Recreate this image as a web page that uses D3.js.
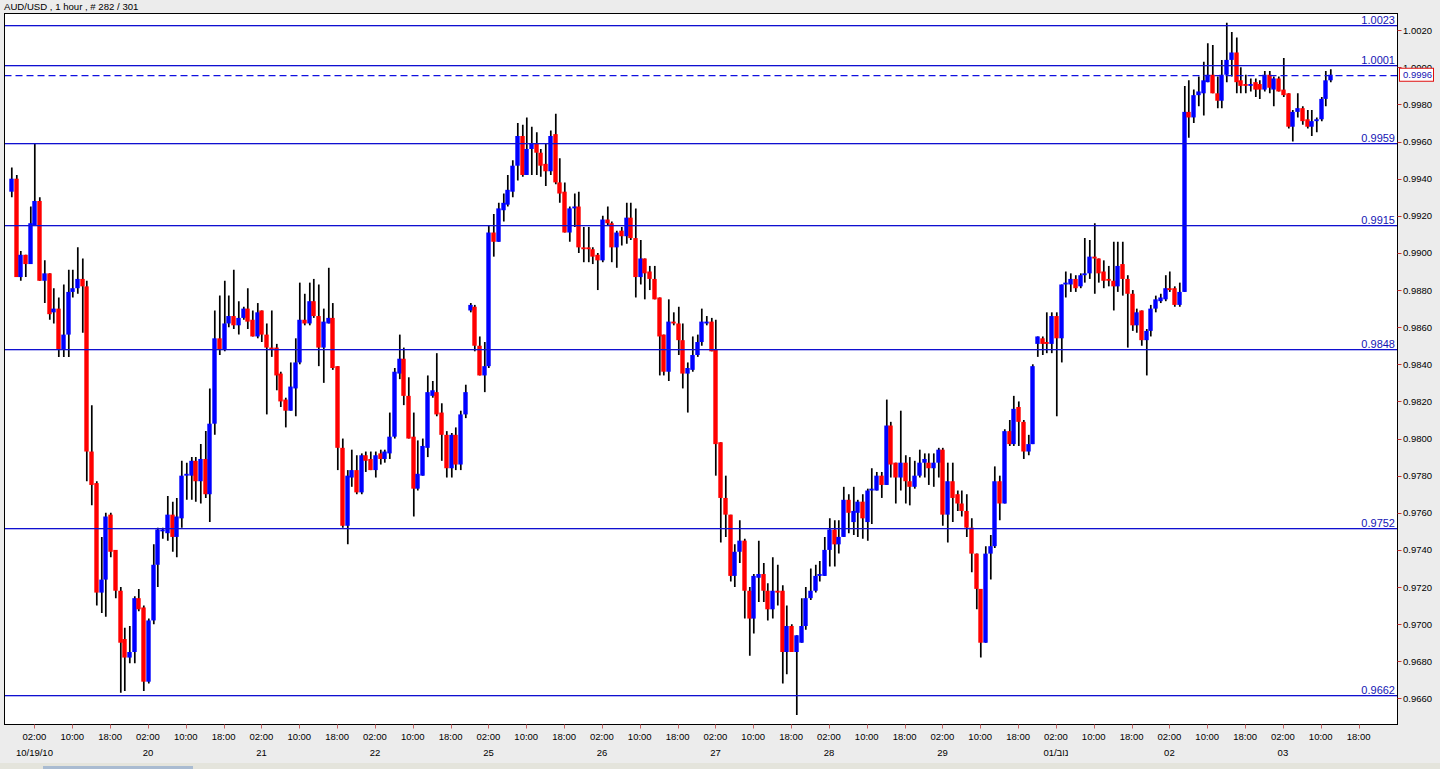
<!DOCTYPE html>
<html>
<head>
<meta charset="utf-8">
<script src="https://cdn.jsdelivr.net/npm/d3@7"></script>
<style>
  html, body { margin: 0; padding: 0; background: #ececec; }
  svg { display: block; }
  text { font-family: "Liberation Sans", Arial, sans-serif; }
</style>
</head>
<body>
<svg id="chart" width="1440" height="769"></svg>
<script>
// ---------------- DATA ----------------
const title = "AUD/USD , 1 hour , # 282 / 301";

const opens = [
0.9933,0.9940,0.9887,0.9899,0.9894,0.9915,0.9928,0.9885,0.9889,0.9868,
0.9870,0.9848,0.9856,0.9879,0.9881,0.9886,0.9882,0.9793,0.9776,0.9717,
0.9724,0.9759,0.9740,0.9718,0.9692,0.9682,0.9685,0.9714,0.9709,0.9669,
0.9702,0.9732,0.9750,0.9749,0.9759,0.9747,0.9757,0.9780,0.9780,0.9788,
0.9777,0.9789,0.9770,0.9808,0.9854,0.9848,0.9862,0.9866,0.9861,0.9865,
0.9870,0.9864,0.9855,0.9869,0.9856,0.9849,0.9849,0.9835,0.9821,0.9815,
0.9827,0.9841,0.9864,0.9862,0.9874,0.9866,0.9849,0.9862,0.9865,0.9839,
0.9795,0.9753,0.9779,0.9783,0.9771,0.9791,0.9789,0.9783,0.9792,0.9789,
0.9792,0.9801,0.9835,0.9843,0.9823,0.9801,0.9773,0.9780,0.9795,0.9823,
0.9825,0.9814,0.9802,0.9784,0.9802,0.9786,0.9813,0.9869,0.9871,0.9850,
0.9834,0.9839,0.9911,0.9906,0.9923,0.9926,0.9933,0.9947,0.9963,0.9942,
0.9956,0.9959,0.9954,0.9948,0.9944,0.9964,0.9938,0.9933,0.9911,0.9924,
0.9925,0.9903,0.9903,0.9902,0.9899,0.9896,0.9918,0.9916,0.9903,0.9912,
0.9909,0.9919,0.9908,0.9887,0.9897,0.9890,0.9886,0.9876,0.9856,0.9836,
0.9863,0.9862,0.9853,0.9835,0.9837,0.9845,0.9852,0.9862,0.9863,0.9848,
0.9798,0.9768,0.9759,0.9726,0.9739,0.9745,0.9718,0.9703,0.9725,0.9727,
0.9718,0.9708,0.9718,0.9718,0.9685,0.9699,0.9685,0.9690,0.9699,0.9714,
0.9718,0.9726,0.9726,0.9740,0.9751,0.9743,0.9747,0.9767,0.9755,0.9760,
0.9766,0.9755,0.9772,0.9772,0.9780,0.9775,0.9807,0.9787,0.9779,0.9787,
0.9777,0.9774,0.9780,0.9787,0.9787,0.9784,0.9787,0.9794,0.9759,0.9777,
0.9770,0.9765,0.9761,0.9752,0.9738,0.9719,0.9690,0.9738,0.9742,0.9777,
0.9765,0.9804,0.9797,0.9817,0.9809,0.9793,0.9797,0.9851,0.9854,0.9852,
0.9851,0.9866,0.9854,0.9883,0.9883,0.9886,0.9882,0.9888,0.9889,0.9898,
0.9897,0.9890,0.9886,0.9885,0.9882,0.9894,0.9886,0.9878,0.9861,0.9869,
0.9853,0.9858,0.9870,0.9874,0.9875,0.9881,0.9881,0.9872,0.9879,0.9976,
0.9973,0.9985,0.9986,0.9992,0.9996,0.9986,0.9982,0.9996,1.0004,1.0008,
0.9993,0.9991,0.9990,0.9992,0.9991,0.9988,0.9996,0.9988,0.9994,0.9988,
0.9986,0.9968,0.9976,0.9978,0.9972,0.9968,0.9971,0.9972,0.9983,0.9993
];
const highs = [
0.9946,0.9942,0.9901,0.9899,0.9925,0.9959,0.9930,0.9896,0.9889,0.9881,
0.9876,0.9883,0.9891,0.9891,0.9903,0.9897,0.9885,0.9818,0.9777,0.9747,
0.9760,0.9760,0.9740,0.9720,0.9698,0.9699,0.9715,0.9719,0.9710,0.9703,
0.9743,0.9752,0.9752,0.9769,0.9766,0.9768,0.9788,0.9787,0.9790,0.9790,
0.9797,0.9804,0.9827,0.9869,0.9877,0.9885,0.9877,0.9891,0.9874,0.9871,
0.9881,0.9869,0.9873,0.9869,0.9862,0.9869,0.9851,0.9836,0.9822,0.9841,
0.9854,0.9884,0.9878,0.9884,0.9886,0.9883,0.9870,0.9892,0.9873,0.9839,
0.9800,0.9783,0.9794,0.9791,0.9792,0.9793,0.9793,0.9793,0.9794,0.9794,
0.9814,0.9838,0.9856,0.9849,0.9833,0.9814,0.9799,0.9800,0.9834,0.9831,
0.9846,0.9819,0.9804,0.9803,0.9806,0.9815,0.9829,0.9873,0.9872,0.9855,
0.9852,0.9915,0.9921,0.9927,0.9932,0.9942,0.9950,0.9970,0.9969,0.9973,
0.9968,0.9965,0.9956,0.9959,0.9966,0.9975,0.9951,0.9938,0.9925,0.9932,
0.9933,0.9914,0.9914,0.9903,0.9900,0.9920,0.9925,0.9917,0.9912,0.9914,
0.9927,0.9927,0.9924,0.9907,0.9897,0.9893,0.9893,0.9876,0.9856,0.9875,
0.9868,0.9871,0.9862,0.9841,0.9855,0.9856,0.9870,0.9866,0.9865,0.9864,
0.9798,0.9780,0.9759,0.9743,0.9756,0.9746,0.9720,0.9727,0.9745,0.9733,
0.9722,0.9736,0.9732,0.9721,0.9710,0.9700,0.9694,0.9714,0.9720,0.9730,
0.9732,0.9734,0.9747,0.9757,0.9756,0.9756,0.9774,0.9770,0.9774,0.9767,
0.9770,0.9773,0.9784,0.9782,0.9782,0.9821,0.9809,0.9787,0.9815,0.9791,
0.9790,0.9788,0.9794,0.9792,0.9792,0.9792,0.9795,0.9795,0.9787,0.9787,
0.9772,0.9772,0.9770,0.9757,0.9738,0.9719,0.9742,0.9748,0.9785,0.9780,
0.9805,0.9810,0.9823,0.9820,0.9810,0.9802,0.9840,0.9855,0.9855,0.9868,
0.9868,0.9868,0.9883,0.9890,0.9889,0.9888,0.9889,0.9908,0.9907,0.9916,
0.9897,0.9896,0.9893,0.9906,0.9906,0.9906,0.9888,0.9880,0.9870,0.9869,
0.9859,0.9872,0.9877,0.9878,0.9888,0.9890,0.9882,0.9884,0.9990,0.9993,
0.9988,0.9995,1.0003,1.0013,1.0012,0.9995,1.0004,1.0024,1.0019,1.0016,
1.0000,0.9996,0.9994,0.9994,0.9993,0.9998,0.9998,0.9995,0.9995,1.0005,
0.9986,0.9977,0.9986,0.9979,0.9977,0.9977,0.9973,0.9984,0.9998,0.9999
];
const lows = [
0.9930,0.9887,0.9885,0.9887,0.9894,0.9915,0.9885,0.9873,0.9864,0.9862,
0.9844,0.9844,0.9844,0.9876,0.9878,0.9857,0.9777,0.9764,0.9710,0.9706,
0.9704,0.9736,0.9714,0.9663,0.9664,0.9679,0.9679,0.9707,0.9664,0.9668,
0.9700,0.9720,0.9746,0.9745,0.9739,0.9736,0.9752,0.9767,0.9767,0.9766,
0.9765,0.9768,0.9755,0.9802,0.9845,0.9847,0.9860,0.9859,0.9856,0.9864,
0.9859,0.9855,0.9854,0.9852,0.9813,0.9844,0.9826,0.9817,0.9806,0.9815,
0.9812,0.9840,0.9861,0.9861,0.9865,0.9839,0.9830,0.9862,0.9837,0.9783,
0.9752,0.9743,0.9774,0.9770,0.9770,0.9782,0.9783,0.9779,0.9786,0.9787,
0.9789,0.9800,0.9832,0.9818,0.9800,0.9758,0.9772,0.9780,0.9790,0.9822,
0.9812,0.9788,0.9779,0.9779,0.9783,0.9783,0.9811,0.9868,0.9847,0.9834,
0.9825,0.9838,0.9898,0.9906,0.9917,0.9925,0.9930,0.9939,0.9941,0.9942,
0.9942,0.9942,0.9941,0.9936,0.9942,0.9937,0.9927,0.9911,0.9906,0.9914,
0.9900,0.9895,0.9895,0.9894,0.9880,0.9895,0.9915,0.9895,0.9892,0.9904,
0.9905,0.9907,0.9876,0.9883,0.9875,0.9880,0.9875,0.9834,0.9834,0.9831,
0.9861,0.9845,0.9827,0.9814,0.9836,0.9844,0.9850,0.9861,0.9847,0.9780,
0.9744,0.9747,0.9723,0.9720,0.9733,0.9703,0.9683,0.9695,0.9712,0.9712,
0.9702,0.9703,0.9710,0.9668,0.9673,0.9685,0.9651,0.9690,0.9697,0.9713,
0.9717,0.9723,0.9726,0.9731,0.9731,0.9738,0.9747,0.9749,0.9748,0.9747,
0.9746,0.9745,0.9754,0.9772,0.9768,0.9775,0.9779,0.9765,0.9772,0.9765,
0.9764,0.9773,0.9779,0.9779,0.9775,0.9774,0.9779,0.9753,0.9744,0.9755,
0.9761,0.9758,0.9747,0.9728,0.9708,0.9682,0.9690,0.9724,0.9741,0.9756,
0.9765,0.9796,0.9796,0.9796,0.9789,0.9791,0.9797,0.9844,0.9845,0.9846,
0.9846,0.9812,0.9841,0.9876,0.9879,0.9879,0.9881,0.9884,0.9886,0.9878,
0.9884,0.9881,0.9882,0.9869,0.9879,0.9877,0.9849,0.9858,0.9857,0.9850,
0.9834,0.9855,0.9868,0.9873,0.9874,0.9879,0.9871,0.9871,0.9879,0.9962,
0.9970,0.9979,0.9974,0.9992,0.9986,0.9978,0.9978,0.9992,0.9995,0.9986,
0.9986,0.9986,0.9987,0.9984,0.9983,0.9987,0.9986,0.9979,0.9987,0.9984,
0.9967,0.9960,0.9973,0.9969,0.9967,0.9963,0.9965,0.9971,0.9979,0.9992
];
const closes = [
0.9940,0.9887,0.9899,0.9894,0.9916,0.9928,0.9885,0.9889,0.9867,0.9870,
0.9848,0.9856,0.9879,0.9881,0.9886,0.9882,0.9793,0.9775,0.9717,0.9724,
0.9758,0.9739,0.9718,0.9690,0.9682,0.9685,0.9714,0.9708,0.9669,0.9702,
0.9732,0.9751,0.9751,0.9759,0.9747,0.9758,0.9780,0.9781,0.9788,0.9777,
0.9789,0.9770,0.9808,0.9854,0.9848,0.9862,0.9866,0.9861,0.9865,0.9870,
0.9863,0.9855,0.9868,0.9856,0.9849,0.9848,0.9834,0.9820,0.9815,0.9828,
0.9841,0.9864,0.9862,0.9874,0.9866,0.9849,0.9863,0.9865,0.9838,0.9795,
0.9753,0.9780,0.9783,0.9771,0.9791,0.9788,0.9783,0.9791,0.9789,0.9793,
0.9801,0.9836,0.9843,0.9823,0.9800,0.9773,0.9781,0.9796,0.9825,0.9826,
0.9813,0.9802,0.9784,0.9802,0.9786,0.9813,0.9825,0.9872,0.9850,0.9834,
0.9839,0.9911,0.9906,0.9924,0.9927,0.9934,0.9947,0.9963,0.9942,0.9956,
0.9959,0.9954,0.9947,0.9944,0.9963,0.9938,0.9932,0.9911,0.9924,0.9925,
0.9903,0.9902,0.9902,0.9898,0.9896,0.9918,0.9916,0.9903,0.9911,0.9909,
0.9919,0.9908,0.9887,0.9897,0.9889,0.9886,0.9875,0.9855,0.9836,0.9863,
0.9862,0.9853,0.9835,0.9838,0.9845,0.9852,0.9863,0.9863,0.9847,0.9797,
0.9768,0.9759,0.9726,0.9739,0.9745,0.9718,0.9703,0.9726,0.9727,0.9718,
0.9708,0.9718,0.9717,0.9685,0.9699,0.9685,0.9694,0.9699,0.9714,0.9718,
0.9726,0.9727,0.9740,0.9751,0.9743,0.9747,0.9767,0.9760,0.9761,0.9766,
0.9757,0.9772,0.9773,0.9780,0.9775,0.9807,0.9786,0.9779,0.9787,0.9777,
0.9774,0.9780,0.9787,0.9789,0.9784,0.9787,0.9794,0.9759,0.9777,0.9768,
0.9765,0.9761,0.9752,0.9738,0.9719,0.9690,0.9738,0.9742,0.9777,0.9765,
0.9804,0.9797,0.9816,0.9809,0.9793,0.9797,0.9839,0.9855,0.9851,0.9851,
0.9866,0.9854,0.9883,0.9884,0.9886,0.9881,0.9888,0.9889,0.9898,0.9897,
0.9889,0.9885,0.9885,0.9882,0.9893,0.9886,0.9878,0.9861,0.9868,0.9853,
0.9858,0.9870,0.9875,0.9876,0.9881,0.9880,0.9872,0.9879,0.9976,0.9973,
0.9985,0.9987,0.9993,0.9996,0.9986,0.9982,0.9996,1.0004,1.0008,0.9992,
0.9990,0.9990,0.9991,0.9988,0.9988,0.9996,0.9989,0.9994,0.9987,0.9985,
0.9968,0.9976,0.9978,0.9971,0.9968,0.9971,0.9972,0.9983,0.9993,0.9996
];

const levels = [1.0023, 1.0001, 0.9959, 0.9915, 0.9848, 0.9752, 0.9662];
const bidPrice = 0.9996;
const yTickValues = [0.9660,0.9680,0.9700,0.9720,0.9740,0.9760,0.9780,0.9800,0.9820,0.9840,
                     0.9860,0.9880,0.9900,0.9920,0.9940,0.9960,0.9980,1.0000,1.0020];
const timeLabels = [
"02:00","10:00","18:00","02:00","10:00","18:00","02:00","10:00","18:00",
"02:00","10:00","18:00","02:00","10:00","18:00","02:00","10:00","18:00",
"02:00","10:00","18:00","02:00","10:00","18:00","02:00","10:00","18:00",
"02:00","10:00","18:00","02:00","10:00","18:00","02:00","10:00","18:00"];
const dateLabels = ["10/19/10","20","21","22","25","26","27","28","29","01/נוב","02","03"];

// ---------------- LAYOUT ----------------
const W = 1440, H = 769;
const plot = {left: 4.5, top: 13.5, right: 1397.5, bottom: 724.5};
const svg = d3.select("#chart");

svg.append("rect").attr("x",0).attr("y",0).attr("width",W).attr("height",H).attr("fill","#ececec");
svg.append("rect").attr("x",0).attr("y",763).attr("width",W).attr("height",6).attr("fill","#e4e4dc");
svg.append("rect").attr("x",43).attr("y",766).attr("width",150).attr("height",3).attr("fill","#a9bbd1");

const N = closes.length;
const x = d3.scaleLinear().domain([0, N - 1]).range([10.8, 1330.2]);
const y = d3.scaleLinear().domain([0.9660, 1.0020]).range([698.4, 30.2]);

// plot background
svg.append("rect")
  .attr("x", plot.left).attr("y", plot.top)
  .attr("width", plot.right - plot.left).attr("height", plot.bottom - plot.top)
  .attr("fill", "#ffffff");

svg.append("defs").append("clipPath").attr("id","clip")
  .append("rect").attr("x", plot.left).attr("y", plot.top)
  .attr("width", plot.right - plot.left).attr("height", plot.bottom - plot.top);

const g = svg.append("g").attr("clip-path","url(#clip)");

// candles
const idx = d3.range(N);
const bodyW = 4.4;
g.append("g").selectAll("line").data(idx).join("line")
  .attr("x1", i => Math.round(x(i)) + 0.8).attr("x2", i => Math.round(x(i)) + 0.8)
  .attr("y1", i => y(highs[i])).attr("y2", i => y(lows[i]))
  .attr("stroke", "#000").attr("stroke-width", 1.7);

g.append("g").selectAll("rect").data(idx).join("rect")
  .attr("x", i => Math.round(x(i)) + 0.5 - bodyW / 2)
  .attr("width", bodyW)
  .attr("y", i => y(Math.max(opens[i], closes[i])))
  .attr("height", i => Math.max(1.5, Math.abs(y(opens[i]) - y(closes[i]))))
  .attr("fill", i => closes[i] >= opens[i] ? "#0000ff" : "#ff0000");

// horizontal levels (drawn as thin filled rects for a crisp colour)
const lvlColor = "#1010d0";
g.append("g").selectAll("rect").data(levels).join("rect")
  .attr("x", plot.left).attr("width", plot.right - plot.left)
  .attr("y", d => Math.round(y(d))).attr("height", 1.3)
  .attr("fill", lvlColor);

svg.append("g").selectAll("text").data(levels).join("text")
  .attr("x", 1395).attr("y", d => Math.round(y(d)) - 1.5)
  .attr("text-anchor", "end")
  .attr("font-size", 11).attr("fill", "#1414b4")
  .text(d => d3.format(".4f")(d));

// bid dashed line
g.append("line")
  .attr("x1", plot.left).attr("x2", plot.right)
  .attr("y1", Math.round(y(bidPrice)) + 0.6).attr("y2", Math.round(y(bidPrice)) + 0.6)
  .attr("stroke", "#1010e0").attr("stroke-width", 1.3).attr("stroke-dasharray", "7,4");

// frame
svg.append("rect")
  .attr("x", plot.left).attr("y", plot.top)
  .attr("width", plot.right - plot.left).attr("height", plot.bottom - plot.top)
  .attr("fill", "none").attr("stroke", "#000").attr("stroke-width", 1);

// right axis
const ra = svg.append("g");
ra.selectAll("line").data(yTickValues).join("line")
  .attr("x1", plot.right).attr("x2", plot.right + 4)
  .attr("y1", d => Math.round(y(d)) + 0.5).attr("y2", d => Math.round(y(d)) + 0.5)
  .attr("stroke", "#c83232").attr("stroke-width", 1);
ra.selectAll("text").data(yTickValues).join("text")
  .attr("x", 1403).attr("y", d => y(d) + 3.5)
  .attr("font-size", 9.5).attr("fill", "#000")
  .text(d => d3.format(".4f")(d));

// bid box
const by = y(bidPrice);
svg.append("rect").attr("x", 1399.5).attr("y", by - 6.5).attr("width", 34).attr("height", 13)
  .attr("fill", "#ffffff").attr("stroke", "#e01010").attr("stroke-width", 1);
svg.append("text").attr("x", 1403).attr("y", by + 3.5)
  .attr("font-size", 9.5).attr("fill", "#1414b4")
  .text(d3.format(".4f")(bidPrice));

// bottom axis
const ba = svg.append("g");
const tickIdx = timeLabels.map((t, k) => 5 + 8 * k);
ba.selectAll("line").data(tickIdx).join("line")
  .attr("x1", i => Math.round(x(i)) + 0.5).attr("x2", i => Math.round(x(i)) + 0.5)
  .attr("y1", plot.bottom).attr("y2", plot.bottom + 4)
  .attr("stroke", "#c86464").attr("stroke-width", 1);
ba.selectAll("text.t").data(tickIdx).join("text").attr("class","t")
  .attr("x", i => x(i)).attr("y", 740)
  .attr("text-anchor", "middle").attr("font-size", 9.5).attr("fill", "#000")
  .text((i, k) => timeLabels[k]);
ba.selectAll("text.d").data(dateLabels).join("text").attr("class","d")
  .attr("x", (d, k) => x(5 + 24 * k)).attr("y", 756)
  .attr("text-anchor", "middle").attr("font-size", 9.5).attr("fill", "#000")
  .text(d => d);

// title
svg.append("text").attr("x", 4).attr("y", 10)
  .attr("font-size", 9.6).attr("fill", "#000")
  .text(title);
</script>
</body>
</html>
